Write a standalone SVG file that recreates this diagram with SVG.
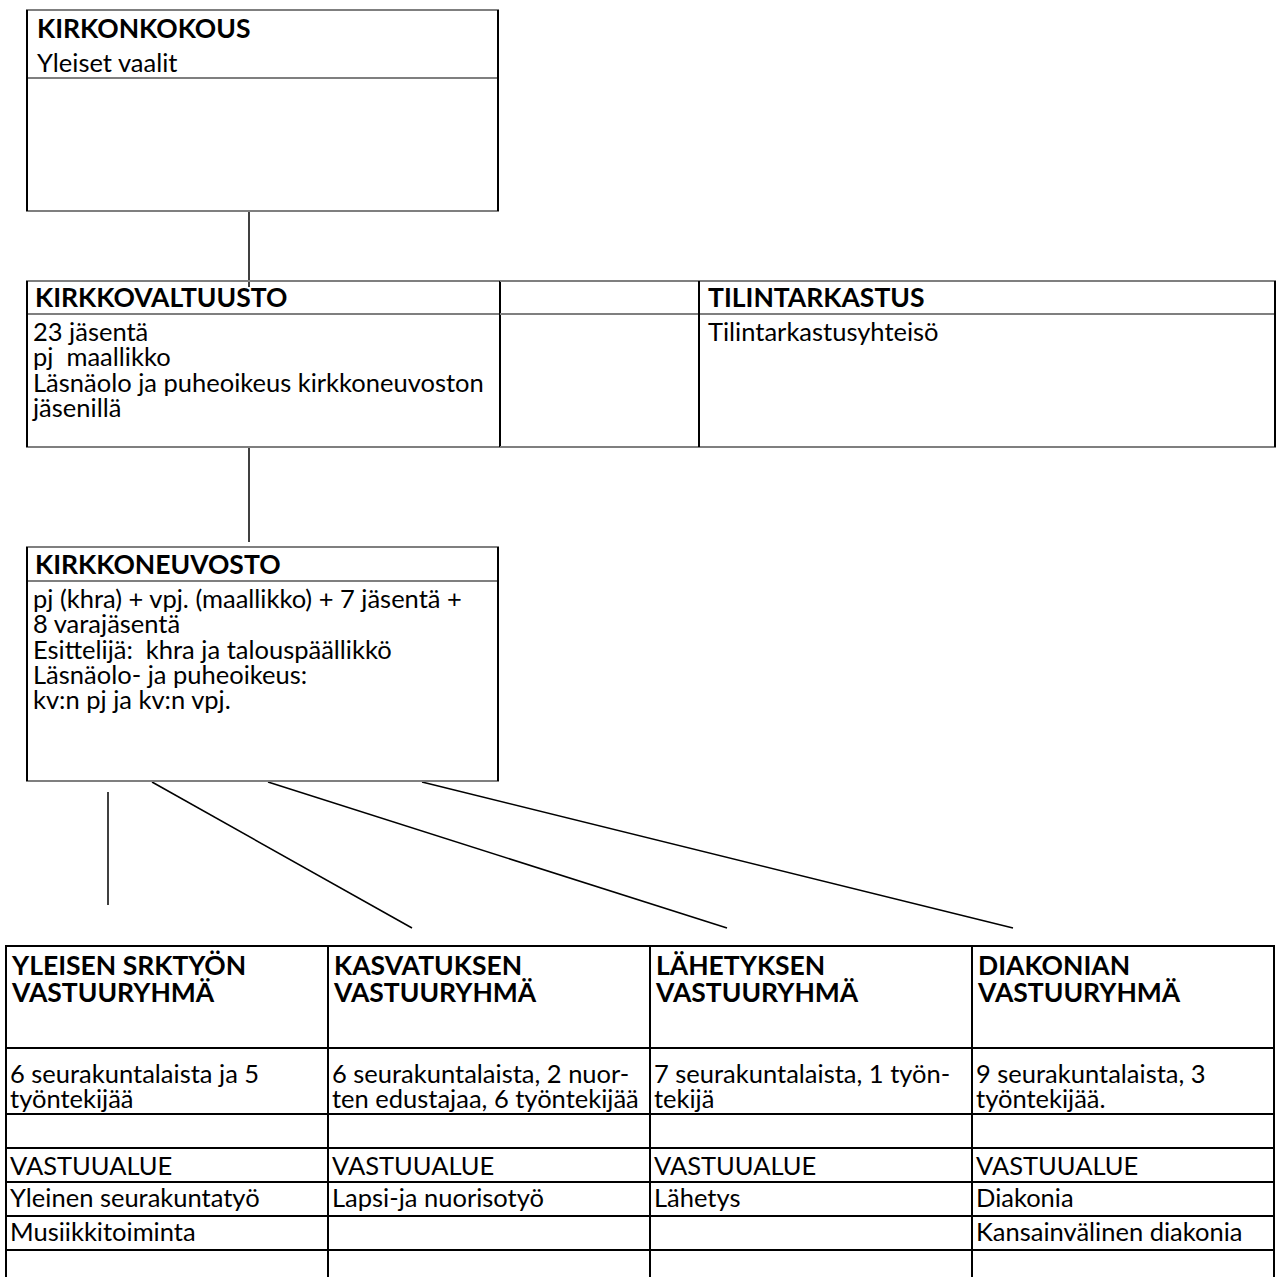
<svg xmlns="http://www.w3.org/2000/svg" width="1280" height="1277" viewBox="0 0 1280 1277">
<style>
text{font-family:Lato,"Open Sans","DejaVu Sans",sans-serif;font-size:25.5px;fill:#000}
.b{font-weight:bold;font-size:26.5px}
.h{stroke:#7f7f7f;stroke-width:2;fill:none}
.v{stroke:#000;stroke-width:2;fill:none}
.t{stroke:#000;stroke-width:2;fill:none}
.c{stroke:#000;stroke-width:1.5;fill:none}
</style>
<rect width="1280" height="1277" fill="#fff"/>
<g id="connectors">
<line class="c" x1="249" y1="211" x2="249" y2="287"/>
<line class="c" x1="249" y1="447" x2="249" y2="542"/>
<line class="c" x1="108" y1="792" x2="108" y2="905"/>
<line class="c" x1="152" y1="782" x2="412" y2="928"/>
<line class="c" x1="268" y1="782" x2="727" y2="928"/>
<line class="c" x1="422" y1="782" x2="1013" y2="928"/>
</g>
<g id="kirkonkokous">
<line class="h" x1="26" y1="10" x2="499" y2="10"/>
<line class="h" x1="26" y1="78" x2="499" y2="78"/>
<line class="h" x1="26" y1="211" x2="499" y2="211"/>
<line class="v" x1="27" y1="10" x2="27" y2="211"/>
<line class="v" x1="498" y1="10" x2="498" y2="211"/>
<text class="b" x="37" y="38">KIRKONKOKOUS</text>
<text x="37" y="72">Yleiset vaalit</text>
</g>
<g id="kirkkovaltuusto">
<line class="h" x1="26" y1="281" x2="501" y2="281"/>
<line class="h" x1="26" y1="314" x2="501" y2="314"/>
<line class="h" x1="26" y1="447" x2="501" y2="447"/>
<line class="v" x1="27" y1="281" x2="27" y2="447"/>
<line class="v" x1="500" y1="281" x2="500" y2="447"/>
<text class="b" x="35" y="307">KIRKKOVALTUUSTO</text>
<text x="33" y="341">23 jäsentä</text>
<text x="33" y="366" xml:space="preserve">pj  maallikko</text>
<text x="33" y="392">Läsnäolo ja puheoikeus kirkkoneuvoston</text>
<text x="33" y="417">jäsenillä</text>
</g>
<g id="empty-cell">
<line class="h" x1="500" y1="281" x2="699" y2="281"/>
<line class="h" x1="500" y1="314" x2="699" y2="314"/>
<line class="h" x1="500" y1="447" x2="699" y2="447"/>
</g>
<g id="tilintarkastus">
<line class="h" x1="699" y1="281" x2="1276" y2="281"/>
<line class="h" x1="699" y1="314" x2="1276" y2="314"/>
<line class="h" x1="699" y1="447" x2="1276" y2="447"/>
<line class="v" x1="699" y1="281" x2="699" y2="447"/>
<line class="v" x1="1275" y1="281" x2="1275" y2="447"/>
<text class="b" x="708" y="307">TILINTARKASTUS</text>
<text x="708" y="341">Tilintarkastusyhteisö</text>
</g>
<g id="kirkkoneuvosto">
<line class="h" x1="26" y1="547" x2="499" y2="547"/>
<line class="h" x1="26" y1="581" x2="499" y2="581"/>
<line class="h" x1="26" y1="781" x2="499" y2="781"/>
<line class="v" x1="27" y1="547" x2="27" y2="781"/>
<line class="v" x1="498" y1="547" x2="498" y2="781"/>
<text class="b" x="35" y="574">KIRKKONEUVOSTO</text>
<text x="33" y="608">pj (khra) + vpj. (maallikko) + 7 jäsentä +</text>
<text x="33" y="633">8 varajäsentä</text>
<text x="33" y="659" xml:space="preserve">Esittelijä:  khra ja talouspäällikkö</text>
<text x="33" y="684">Läsnäolo- ja puheoikeus:</text>
<text x="33" y="709">kv:n pj ja kv:n vpj.</text>
</g>
<g id="table-grid">
<line class="t" x1="5" y1="946" x2="1275" y2="946"/>
<line class="t" x1="5" y1="1048" x2="1275" y2="1048"/>
<line class="t" x1="5" y1="1114" x2="1275" y2="1114"/>
<line class="t" x1="5" y1="1148" x2="1275" y2="1148"/>
<line class="t" x1="5" y1="1182" x2="1275" y2="1182"/>
<line class="t" x1="5" y1="1216" x2="1275" y2="1216"/>
<line class="t" x1="5" y1="1250" x2="1275" y2="1250"/>
<line class="t" x1="6" y1="945" x2="6" y2="1277"/>
<line class="t" x1="328" y1="945" x2="328" y2="1277"/>
<line class="t" x1="650" y1="945" x2="650" y2="1277"/>
<line class="t" x1="972" y1="945" x2="972" y2="1277"/>
<line class="t" x1="1274" y1="945" x2="1274" y2="1277"/>
</g>
<g id="yleisen-srktyon-vastuuryhma">
<text class="b" x="12" y="975">YLEISEN SRKTYÖN</text>
<text class="b" x="12" y="1002">VASTUURYHMÄ</text>
<text x="10" y="1083">6 seurakuntalaista ja 5</text>
<text x="10" y="1108">työntekijää</text>
<text x="10" y="1175">VASTUUALUE</text>
<text x="10" y="1207">Yleinen seurakuntatyö</text>
<text x="10" y="1241">Musiikkitoiminta</text>
</g>
<g id="kasvatuksen-vastuuryhma">
<text class="b" x="334" y="975">KASVATUKSEN</text>
<text class="b" x="334" y="1002">VASTUURYHMÄ</text>
<text x="332" y="1083">6 seurakuntalaista, 2 nuor-</text>
<text x="332" y="1108">ten edustajaa, 6 työntekijää</text>
<text x="332" y="1175">VASTUUALUE</text>
<text x="332" y="1207">Lapsi-ja nuorisotyö</text>
</g>
<g id="lahetyksen-vastuuryhma">
<text class="b" x="656" y="975">LÄHETYKSEN</text>
<text class="b" x="656" y="1002">VASTUURYHMÄ</text>
<text x="654" y="1083">7 seurakuntalaista, 1 työn-</text>
<text x="654" y="1108">tekijä</text>
<text x="654" y="1175">VASTUUALUE</text>
<text x="654" y="1207">Lähetys</text>
</g>
<g id="diakonian-vastuuryhma">
<text class="b" x="978" y="975">DIAKONIAN</text>
<text class="b" x="978" y="1002">VASTUURYHMÄ</text>
<text x="976" y="1083">9 seurakuntalaista, 3</text>
<text x="976" y="1108">työntekijää.</text>
<text x="976" y="1175">VASTUUALUE</text>
<text x="976" y="1207">Diakonia</text>
<text x="976" y="1241">Kansainvälinen diakonia</text>
</g>
</svg>
